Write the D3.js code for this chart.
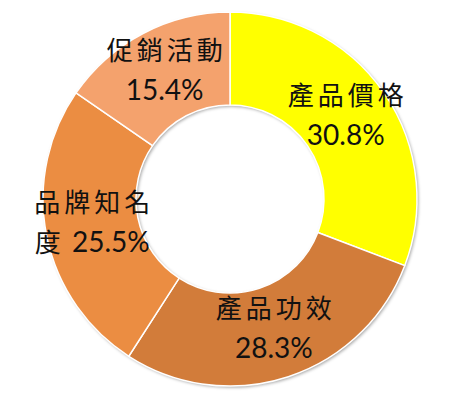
<!DOCTYPE html>
<html>
<head>
<meta charset="utf-8">
<script src="https://cdn.jsdelivr.net/npm/d3@7"></script>
<style>
  html, body { margin: 0; padding: 0; background: #fff; }
  svg { display: block; }
</style>
</head>
<body>
<svg id="chart" width="452" height="406"></svg>
<script>
const categories = ["產品價格", "產品功效", "品牌知名度", "促銷活動"];
const values = [30.8, 28.3, 25.5, 15.4];
const colors = ["#FFFF00", "#D27C3A", "#EB8D42", "#F4A26D"];

const W = 452, H = 406;
const cx = 230, cy = 199;
const outerR = 187, innerR = 94;

const svg = d3.select("#chart");
const defs = svg.append("defs");
const f = defs.append("filter").attr("id", "sh").attr("x", "-10%").attr("y", "-10%").attr("width", "120%").attr("height", "120%");
f.append("feDropShadow").attr("dx", 1.5).attr("dy", 1.5).attr("stdDeviation", 1.5).attr("flood-color", "#000").attr("flood-opacity", 0.35);

const g = svg.append("g").attr("transform", `translate(${cx},${cy})`);

const data = categories.map((c, i) => ({ name: c, value: values[i], color: colors[i] }));
const pie = d3.pie().value(d => d.value).sort(null);
const arcs = pie(data);
const arc = d3.arc().innerRadius(innerR).outerRadius(outerR);

// shadow ring
g.append("g").attr("filter", "url(#sh)")
  .selectAll("path").data(arcs).join("path")
  .attr("d", arc).attr("fill", d => d.data.color);

g.append("g").selectAll("path").data(arcs).join("path")
  .attr("d", arc)
  .attr("fill", d => d.data.color)
  .attr("stroke", "#fff")
  .attr("stroke-width", 1.5);

const fmt = v => v.toFixed(1) + "%";
const cjk = /[\u3400-\u9fff]/;
const LS = 4;

function addLine(text, sel) {
  const runs = [];
  for (const ch of text) {
    const isC = cjk.test(ch);
    if (runs.length && runs[runs.length - 1].c === isC) runs[runs.length - 1].t += ch;
    else runs.push({ c: isC, t: ch });
  }
  const last = runs[runs.length - 1];
  runs.forEach(r => {
    sel.append("tspan")
      .attr("font-family", r.c ? "'Noto Sans CJK TC', sans-serif" : "Lato, 'Open Sans', sans-serif")
      .attr("font-size", r.c ? 26 : 28)
      .attr("letter-spacing", r.c ? LS : 0)
      .text(r.t);
  });
  // compensate trailing letter-spacing so the line stays centred
  if (last.c) sel.attr("dx", LS / 2);
}

const labels = g.append("g").selectAll("g").data(arcs).join("g")
  .attr("transform", d => `translate(${arc.centroid(d)})`);

labels.each(function(d) {
  const name = d.data.name;
  const line1 = name.slice(0, 4);
  const rest = name.slice(4);
  const line2 = (rest ? rest + " " : "") + fmt(d.data.value);
  const sel = d3.select(this);
  const t1 = sel.append("text").attr("text-anchor", "middle").attr("y", -20).attr("dy", "0.35em").attr("fill", "#111");
  addLine(line1, t1);
  const t2 = sel.append("text").attr("text-anchor", "middle").attr("y", 20).attr("dy", "0.35em").attr("fill", "#111");
  addLine(line2, t2);
});
</script>
</body>
</html>
